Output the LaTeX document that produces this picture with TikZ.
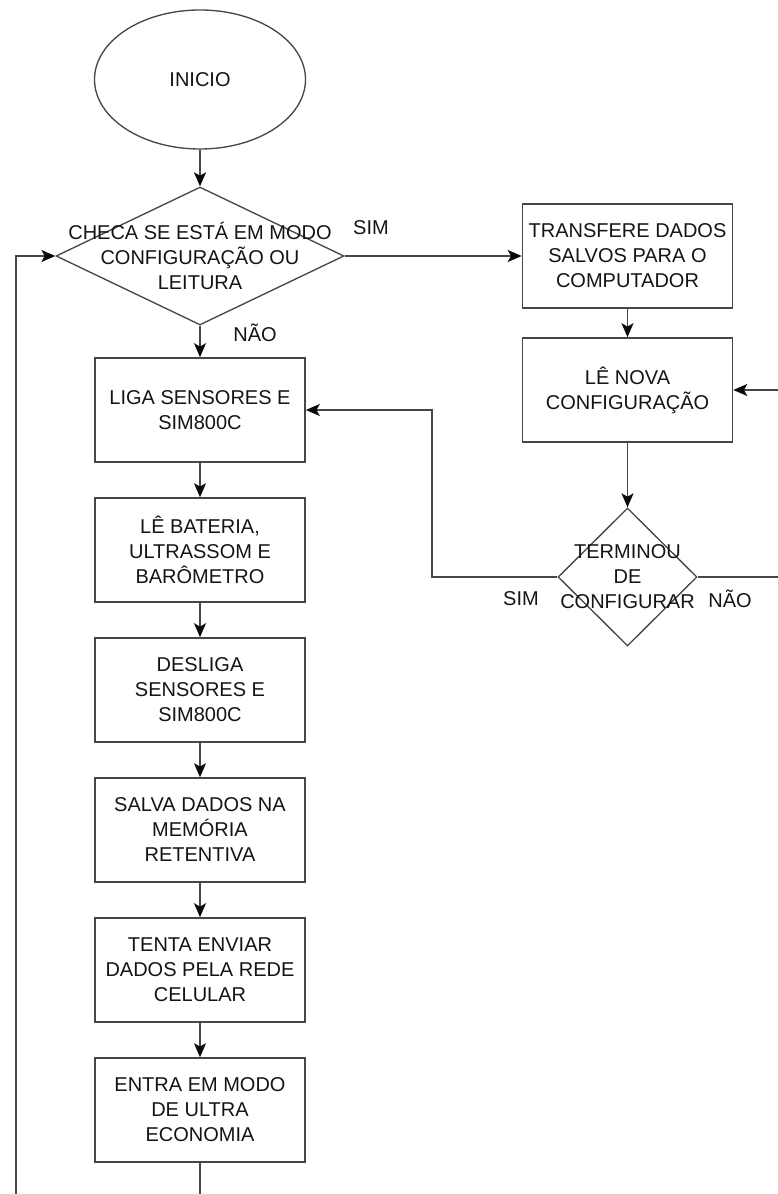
\documentclass[tikz,border=0pt]{standalone}
\usepackage{fontspec}
\setmainfont{Liberation Sans}
\usetikzlibrary{shapes.geometric,arrows.meta}
\definecolor{edge}{RGB}{70,70,70}
\definecolor{tip}{RGB}{10,10,10}
\definecolor{ink}{RGB}{20,20,20}
\begin{document}
\begin{tikzpicture}[x=0.75pt,y=-0.75pt,
  every node/.style={font=\fontsize{15}{18.75}\selectfont, text=ink},
  stepbox/.style={draw=edge, line width=1.2pt, rectangle, minimum width=157.5pt,
    minimum height=78pt, align=center, inner sep=0pt},
  decision/.style={draw=edge, line width=1pt, diamond, inner sep=0pt},
  terminal/.style={draw=edge, line width=1pt, ellipse, minimum width=158.25pt,
    minimum height=104.25pt, inner sep=0pt},
  flow/.style={draw=edge, line width=1.1pt,
    -{Stealth[length=10.5pt,width=9pt,inset=2.5pt,color=tip]}},
  link/.style={draw=edge, line width=1.1pt},
  tag/.style={anchor=center}]

\useasboundingbox (0,0) rectangle (777,1194);

% start and first decision
\node[terminal] (ini) at (200,79.5) {INICIO};
\node[decision, minimum width=216pt, minimum height=103.5pt,
  label={[align=center]center:CHECA SE ESTÁ EM MODO\\CONFIGURAÇÃO OU\\LEITURA}]
  (chk) at (200,256) {};

% configuration branch
\node[stepbox] (trf) at (627.5,256) {TRANSFERE DADOS\\SALVOS PARA O\\COMPUTADOR};
\node[stepbox] (nova) at (627.5,390) {LÊ NOVA\\CONFIGURAÇÃO};
\node[decision, minimum width=104.25pt, minimum height=103.5pt,
  label={[align=center]center:TERMINOU\\DE\\CONFIGURAR}]
  (fim) at (627.5,577) {};

% reading branch
\node[stepbox] (liga) at (200,410) {LIGA SENSORES E\\SIM800C};
\node[stepbox] (bat)  at (200,550) {LÊ BATERIA,\\ULTRASSOM E\\BARÔMETRO};
\node[stepbox] (des)  at (200,690) {DESLIGA\\SENSORES E\\SIM800C};
\node[stepbox] (sal)  at (200,830) {SALVA DADOS NA\\MEMÓRIA\\RETENTIVA};
\node[stepbox] (ten)  at (200,970) {TENTA ENVIAR\\DADOS PELA REDE\\CELULAR};
\node[stepbox] (ent)  at (200,1110) {ENTRA EM MODO\\DE ULTRA\\ECONOMIA};

% branch labels
\node[tag] (simA) at (371,228) {SIM};
\node[tag] (naoA) at (255,333) {NÃO};
\node[tag] (simB) at (521,599) {SIM};
\node[tag] (naoB) at (730,599) {NÃO};

% routing points
\coordinate (bendL) at (432,0);
\coordinate (bendR) at (779,0);
\coordinate (outB) at (200,1200);
\coordinate (outL) at (16,1200);

% connectors
\draw[flow] (ini.south) -- (chk.north);
\draw[flow] (chk.east) -- (trf.west);
\draw[flow] (chk.south) -- (liga.north);
\draw[flow] (trf.south) -- (nova.north);
\draw[flow] (nova.south) -- (fim.north);
\draw[flow] (fim.west) -- (fim.west -| bendL) |- (liga.east);
\draw[flow] (fim.east) -- (fim.east -| bendR) |- (nova.east);
\draw[flow] (liga.south) -- (bat.north);
\draw[flow] (bat.south) -- (des.north);
\draw[flow] (des.south) -- (sal.north);
\draw[flow] (sal.south) -- (ten.north);
\draw[flow] (ten.south) -- (ent.north);
\draw[link] (ent.south) -- (outB);
\draw[flow] (outL) |- (chk.west);
\end{tikzpicture}
\end{document}
